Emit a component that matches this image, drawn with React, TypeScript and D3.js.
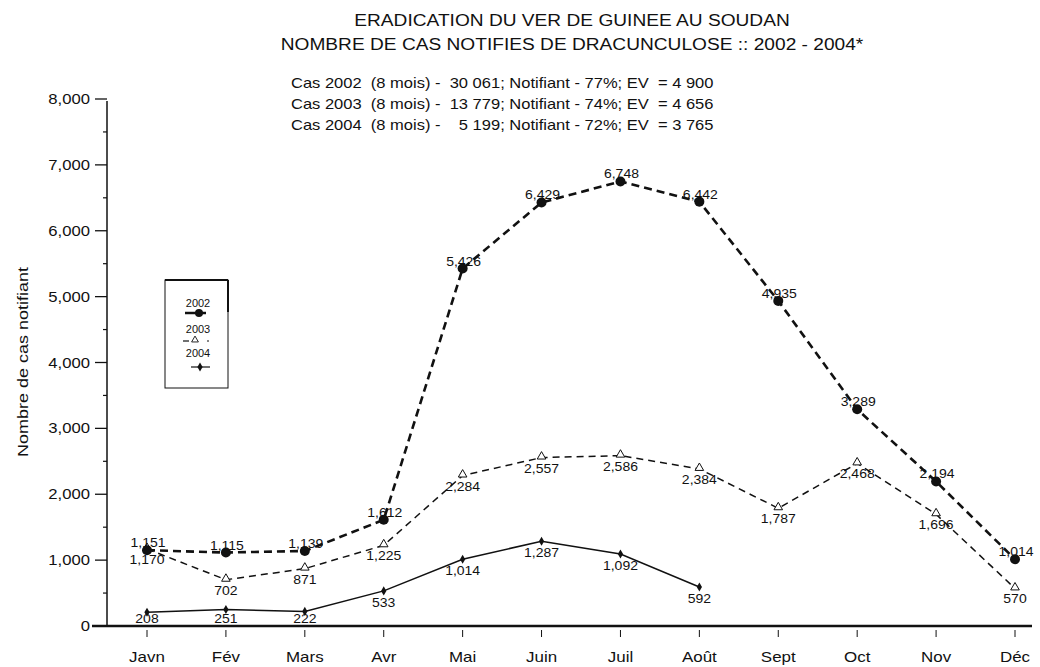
import React from "react";
import * as d3 from "d3";

const months = ["Javn", "Fév", "Mars", "Avr", "Mai", "Juin", "Juil", "Août", "Sept", "Oct", "Nov", "Déc"];
const cases2002 = [1151, 1115, 1139, 1612, 5426, 6429, 6748, 6442, 4935, 3289, 2194, 1014];
const cases2003 = [1170, 702, 871, 1225, 2284, 2557, 2586, 2384, 1787, 2468, 1696, 570];
const cases2004 = [208, 251, 222, 533, 1014, 1287, 1092, 592];
const yTicks = [0, 1000, 2000, 3000, 4000, 5000, 6000, 7000, 8000];
const yMinorTicks = [500, 1500, 2500, 3500, 4500, 5500, 6500, 7500];
const titleLines = ["ERADICATION DU VER DE GUINEE AU SOUDAN", "NOMBRE DE CAS NOTIFIES DE DRACUNCULOSE :: 2002 - 2004*"];
const summaryLines = [
  "Cas 2002  (8 mois) -  30 061; Notifiant - 77%; EV  = 4 900",
  "Cas 2003  (8 mois) -  13 779; Notifiant - 74%; EV  = 4 656",
  "Cas 2004  (8 mois) -    5 199; Notifiant - 72%; EV  = 3 765",
];
const legendYears = ["2002", "2003", "2004"];

const FONT = "'Liberation Sans', Arial, Helvetica, sans-serif";
const fmt = d3.format(",");

type TProps = {
  x: number;
  y: number;
  size: number;
  anchor?: "start" | "middle" | "end";
  sx?: number;
  rotate?: number;
  children: React.ReactNode;
};

function T({ x, y, size, anchor = "start", sx = 1.15, rotate = 0, children }: TProps) {
  return (
    <text
      transform={`translate(${x},${y}) rotate(${rotate}) scale(${sx},1)`}
      textAnchor={anchor}
      fontSize={size}
      fill="#111"
      xmlSpace="preserve"
      style={{ whiteSpace: "pre" }}
    >
      {children}
    </text>
  );
}

export default function App() {
  const W = 1040, H = 667;
  const x = d3.scalePoint<string>().domain(months).range([147, 1015]);
  const y = d3.scaleLinear().domain([0, 8000]).range([626, 99]);
  const line = d3.line<number>().x((_, i) => x(months[i])!).y((d) => y(d));
  const tri = d3.symbol().type(d3.symbolTriangle).size(32)()!;
  const triSmall = d3.symbol().type(d3.symbolTriangle).size(20)()!;
  const dia = d3.symbol().type(d3.symbolDiamond).size(24)()!;

  return (
    <svg width={W} height={H} style={{ display: "block", position: "absolute", left: 0, top: 0, background: "#fff" }} fontFamily={FONT}>
      <rect width={W} height={H} fill="#fff" />
      {titleLines.map((t, i) => (
        <T key={t} x={572} y={26 + i * 24} size={16.5} anchor="middle" sx={1.16}>{t}</T>
      ))}
      {summaryLines.map((t, i) => (
        <T key={t} x={291} y={88 + i * 21} size={14} sx={1.18}>{t}</T>
      ))}

      {/* Y axis */}
      <line x1={107} x2={107} y1={y(8000) + 2} y2={y(0)} stroke="#111" strokeWidth={1.5} />
      {yTicks.map((t) => (
        <g key={t}>
          <line x1={95} x2={107} y1={y(t)} y2={y(t)} stroke="#111" strokeWidth={1.3} />
          <T x={90} y={y(t) + 5} size={14.5} anchor="end" sx={1.15}>{fmt(t)}</T>
        </g>
      ))}
      {yMinorTicks.map((t) => (
        <line key={t} x1={103} x2={107} y1={y(t)} y2={y(t)} stroke="#111" strokeWidth={1.2} />
      ))}
      <T x={28} y={362} size={15} anchor="middle" sx={1.2} rotate={-90}>Nombre de cas notifiant</T>

      {/* X axis */}
      <line x1={92} x2={1032} y1={y(0)} y2={y(0)} stroke="#111" strokeWidth={2.5} />
      {months.map((m) => (
        <g key={m}>
          <line x1={x(m)!} x2={x(m)!} y1={y(0) + 4} y2={y(0) + 11} stroke="#111" strokeWidth={1} />
          <T x={x(m)!} y={662} size={15} anchor="middle" sx={1.13}>{m}</T>
        </g>
      ))}

      {/* 2004 */}
      <path d={line(cases2004)!} fill="none" stroke="#111" strokeWidth={1.5} />
      {cases2004.map((v, i) => (
        <g key={i}>
          <path d={dia} transform={`translate(${x(months[i])},${y(v)})`} fill="#111" />
          <T x={x(months[i])!} y={Math.min(y(v) + 16, 623)} size={12.5} anchor="middle" sx={1.12}>{fmt(v)}</T>
        </g>
      ))}

      {/* 2003 */}
      <path d={line(cases2003)!} fill="none" stroke="#111" strokeWidth={1.5} strokeDasharray="7 5" />
      {cases2003.map((v, i) => (
        <g key={i}>
          <path d={tri} transform={`translate(${x(months[i])},${y(v) - 1})`} fill="#fff" stroke="#111" strokeWidth={1} />
          <T x={x(months[i])!} y={y(v) + 15} size={12.5} anchor="middle" sx={1.12}>{fmt(v)}</T>
        </g>
      ))}

      {/* 2002 */}
      <path d={line(cases2002)!} fill="none" stroke="#111" strokeWidth={2.6} strokeDasharray="8 5" />
      {cases2002.map((v, i) => (
        <g key={i}>
          <circle cx={x(months[i])!} cy={y(v)} r={5} fill="#111" />
          <T x={x(months[i])! + 1} y={y(v) - 3} size={12.5} anchor="middle" sx={1.12}>{fmt(v)}</T>
        </g>
      ))}

      {/* Legend */}
      <rect x={165} y={280} width={63} height={108} fill="#fff" stroke="#111" strokeWidth={1} />
      <line x1={165} x2={228} y1={280} y2={280} stroke="#111" strokeWidth={2} />
      <line x1={228} x2={228} y1={280} y2={312} stroke="#111" strokeWidth={2} />
      {legendYears.map((yr, i) => {
        const ty = [307, 333, 357][i];
        const ly = [313, 341, 367][i];
        return (
          <g key={yr}>
            <T x={198} y={ty} size={10} anchor="middle" sx={1.1}>{yr}</T>
            {i === 0 && (
              <g>
                <line x1={185} x2={206} y1={ly} y2={ly} stroke="#111" strokeWidth={2.5} />
                <circle cx={199} cy={ly} r={4} fill="#111" />
              </g>
            )}
            {i === 1 && (
              <g>
                <line x1={183} x2={189} y1={ly} y2={ly} stroke="#111" strokeWidth={1.2} />
                <path d={triSmall} transform={`translate(195,${ly - 1})`} fill="#fff" stroke="#111" strokeWidth={0.9} />
                <line x1={207} x2={209} y1={ly} y2={ly} stroke="#111" strokeWidth={1.2} />
              </g>
            )}
            {i === 2 && (
              <g>
                <line x1={191} x2={210} y1={ly} y2={ly} stroke="#111" strokeWidth={1.2} />
                <path d={dia} transform={`translate(200,${ly})`} fill="#111" />
              </g>
            )}
          </g>
        );
      })}
    </svg>
  );
}
